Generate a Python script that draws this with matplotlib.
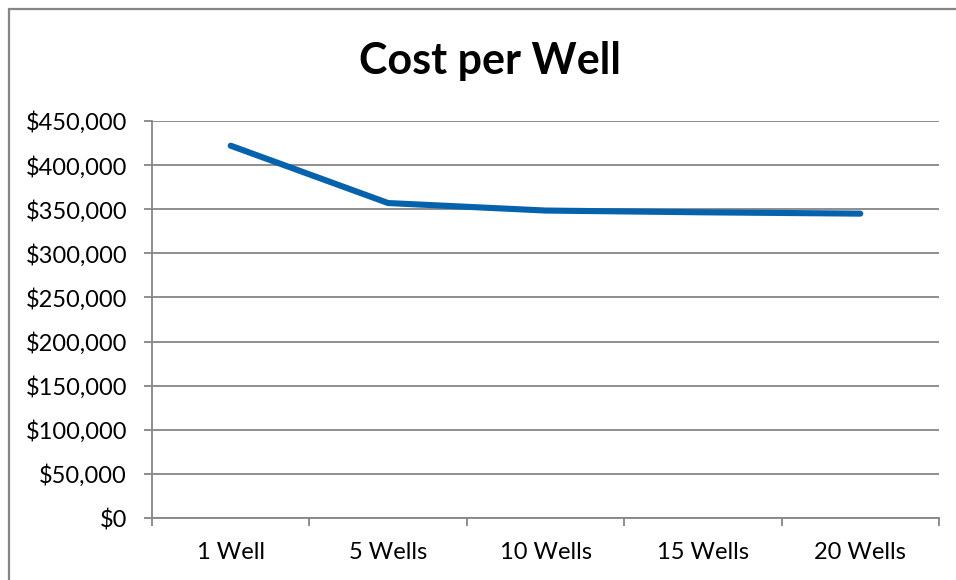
import matplotlib
matplotlib.use("Agg")
import matplotlib.pyplot as plt
from matplotlib.patches import Rectangle
from matplotlib.ticker import FuncFormatter, FixedLocator, NullFormatter

categories = ["1 Well", "5 Wells", "10 Wells", "15 Wells", "20 Wells"]
cost_per_well = [422000, 357000, 348500, 346500, 345000]
y_ticks = [0, 50000, 100000, 150000, 200000, 250000, 300000, 350000, 400000, 450000]

plt.rcParams["font.family"] = ["Lato", "DejaVu Sans"]

W, H = 956, 580
fig = plt.figure(figsize=(W / 100, H / 100), dpi=100)
ax = fig.add_axes([152 / W, 1 - 518 / H, (939 - 152) / W, (518 - 121) / H])

grey = "#868686"
x = list(range(len(categories)))
ax.plot(x, cost_per_well, color="#0563ad", lw=4.4, solid_capstyle="round",
        solid_joinstyle="round", zorder=3)

ax.set_xlim(-0.5, len(categories) - 0.5)
ax.set_ylim(0, 450000)
ax.set_yticks(y_ticks)
ax.yaxis.set_major_formatter(FuncFormatter(lambda v, p: f"${v:,.0f}"))
ax.grid(axis="y", color=grey, lw=1.3)
ax.set_axisbelow(True)

# category labels sit between tick marks
ax.xaxis.set_major_locator(FixedLocator([i - 0.5 for i in range(len(categories) + 1)]))
ax.xaxis.set_major_formatter(NullFormatter())
ax.xaxis.set_minor_locator(FixedLocator(x))
ax.set_xticklabels(categories, minor=True)
ax.tick_params(axis="x", which="minor", length=0, pad=17, labelsize=17)
ax.tick_params(axis="x", which="major", length=6, width=1.3, color=grey, direction="out")
ax.tick_params(axis="y", length=6, width=1.3, color=grey, pad=12, labelsize=17)

for side in ["top", "right"]:
    ax.spines[side].set_visible(False)
for side in ["left", "bottom"]:
    ax.spines[side].set_color(grey)
    ax.spines[side].set_linewidth(1.3)

fig.text(490 / W, 1 - 61 / H, "Cost per Well", ha="center", va="center",
         fontsize=31, fontweight="bold")

fig.patches.append(Rectangle((8.5 / W, -0.1), 1.2, 1.1 - 9.5 / H,
                             transform=fig.transFigure, fill=False,
                             edgecolor=grey, lw=1.6))

fig.savefig("out.png", dpi=100)
